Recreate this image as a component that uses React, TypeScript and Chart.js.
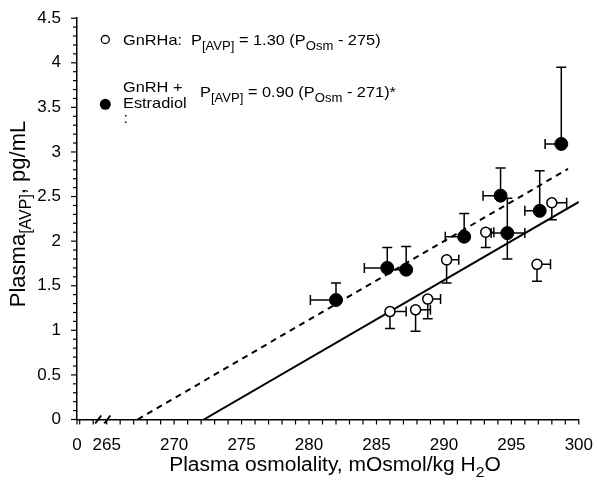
import React, { useEffect, useRef } from 'react';
import { Chart, registerables } from 'chart.js';

Chart.register(...registerables);

// ---------- axis ticks ----------
const X_MIN = 262.8;
const X_MAX = 300;
const Y_MIN = 0;
const Y_MAX = 4.5;
const xTickValues = [262.8, 265, 270, 275, 280, 285, 290, 295, 300];
const xTickLabels = ['0', '265', '270', '275', '280', '285', '290', '295', '300'];
const yTickValues = [0, 0.5, 1, 1.5, 2, 2.5, 3, 3.5, 4, 4.5];
const yTickLabels = ['0', '0.5', '1', '1.5', '2', '2.5', '3', '3.5', '4', '4.5'];

// ---------- GnRH + Estradiol (filled circles) ----------
const estX = [282.0, 285.8, 287.2, 291.5, 294.2, 294.7, 297.1, 298.7];
const estY = [1.34, 1.7, 1.68, 2.05, 2.51, 2.09, 2.34, 3.09];
const estXErrLow = [1.9, 1.7, 1.5, 1.4, 1.3, 1.2, 1.1, 1.2];
const estXErrHigh = [0, 0, 0, 0, 0, 1.3, 0, 0];
const estYErrHigh = [0.19, 0.23, 0.26, 0.26, 0.31, 0.39, 0.45, 0.86];
const estYErrLow = [0, 0, 0, 0, 0, 0.29, 0, 0];

// ---------- GnRHa (open circles) ----------
const gnX = [286.0, 287.9, 288.8, 290.2, 293.1, 296.9, 298.0];
const gnY = [1.21, 1.23, 1.35, 1.79, 2.1, 1.74, 2.43];
const gnXErrHigh = [1.2, 1.1, 0.95, 0.9, 0.6, 1.0, 1.1];
const gnYErrLow = [0.19, 0.24, 0.22, 0.26, 0.17, 0.19, 0.19];

// ---------- regression lines ----------
const gnLineX = [272.2, 300];
const gnLineY = [0, 2.44];
const estLineX = [267.3, 299.2];
const estLineY = [0, 2.81];

// ---------- axis break marks (x values) ----------
const breakX = [264.37, 265.05];

const FAMILY = '"Liberation Sans", Arial, Helvetica, sans-serif';

type Seg = { t: string; size: number; dy?: number };

function drawRich(ctx: CanvasRenderingContext2D, segs: Seg[], x: number, y: number, align: 'left' | 'center', sx: number) {
  ctx.save();
  ctx.translate(x, y);
  ctx.scale(sx, 1);
  let total = 0;
  const widths: number[] = [];
  for (const s of segs) {
    ctx.font = `${s.size}px ${FAMILY}`;
    const w = ctx.measureText(s.t).width;
    widths.push(w);
    total += w;
  }
  let cx = align === 'center' ? -total / 2 : 0;
  ctx.textBaseline = 'alphabetic';
  ctx.textAlign = 'left';
  segs.forEach((s, i) => {
    ctx.font = `${s.size}px ${FAMILY}`;
    ctx.fillText(s.t, cx, s.dy || 0);
    cx += widths[i];
  });
  ctx.restore();
}

const decorPlugin = {
  id: 'decor',
  beforeDatasetDraw(chart: any, args: any) {
    const ctx: CanvasRenderingContext2D = chart.ctx;
    const xs = chart.scales.x;
    const ys = chart.scales.y;
    const cap = 5;
    ctx.save();
    ctx.strokeStyle = '#000';
    ctx.lineWidth = 1.5;
    const hbar = (x0: number, x1: number, y: number) => {
      const a = xs.getPixelForValue(x0), b = xs.getPixelForValue(x1), p = ys.getPixelForValue(y);
      ctx.beginPath();
      ctx.moveTo(a, p); ctx.lineTo(b, p);
      ctx.moveTo(b, p - cap); ctx.lineTo(b, p + cap);
      ctx.stroke();
    };
    const vbar = (x: number, y0: number, y1: number) => {
      const p = xs.getPixelForValue(x), a = ys.getPixelForValue(y0), b = ys.getPixelForValue(y1);
      ctx.beginPath();
      ctx.moveTo(p, a); ctx.lineTo(p, b);
      ctx.moveTo(p - cap, b); ctx.lineTo(p + cap, b);
      ctx.stroke();
    };
    if (args.index === 2) {
      gnX.forEach((x, i) => {
        if (gnXErrHigh[i] > 0) hbar(x, x + gnXErrHigh[i], gnY[i]);
        if (gnYErrLow[i] > 0) vbar(x, gnY[i], gnY[i] - gnYErrLow[i]);
      });
    }
    if (args.index === 3) {
      estX.forEach((x, i) => {
        if (estXErrLow[i] > 0) hbar(x, x - estXErrLow[i], estY[i]);
        if (estXErrHigh[i] > 0) hbar(x, x + estXErrHigh[i], estY[i]);
        if (estYErrHigh[i] > 0) vbar(x, estY[i], estY[i] + estYErrHigh[i]);
        if (estYErrLow[i] > 0) vbar(x, estY[i], estY[i] - estYErrLow[i]);
      });
    }
    ctx.restore();
  },
  afterDraw(chart: any) {
    const ctx: CanvasRenderingContext2D = chart.ctx;
    const xs = chart.scales.x;
    const ys = chart.scales.y;
    const area = chart.chartArea;
    ctx.save();
    ctx.strokeStyle = '#000';
    ctx.fillStyle = '#000';
    ctx.lineWidth = 1.2;
    // y ticks every 0.1
    for (let k = 0; k <= 45; k++) {
      const v = k / 10;
      const p = ys.getPixelForValue(v);
      const len = k % 5 === 0 ? 6 : 4;
      ctx.beginPath();
      ctx.moveTo(area.left - len, p);
      ctx.lineTo(area.left, p);
      ctx.stroke();
    }
    // x ticks every 1
    const xticks = [X_MIN];
    for (let v = 263; v <= 300; v++) xticks.push(v);
    xticks.forEach((v) => {
      const p = xs.getPixelForValue(v);
      ctx.beginPath();
      ctx.moveTo(p, area.bottom);
      ctx.lineTo(p, area.bottom + 5);
      ctx.stroke();
    });
    // axis break marks
    ctx.lineWidth = 2;
    breakX.forEach((v) => {
      const p = xs.getPixelForValue(v);
      ctx.beginPath();
      ctx.moveTo(p - 3, area.bottom + 4);
      ctx.lineTo(p + 3, area.bottom - 4);
      ctx.stroke();
    });

    // legend
    const sx = 1.09;
    ctx.lineWidth = 1.3;
    ctx.beginPath();
    ctx.arc(105.3, 39.5, 4, 0, Math.PI * 2);
    ctx.fillStyle = '#fff';
    ctx.fill();
    ctx.stroke();
    ctx.fillStyle = '#000';
    ctx.beginPath();
    ctx.arc(105.3, 104.3, 5.5, 0, Math.PI * 2);
    ctx.fill();

    drawRich(ctx, [{ t: 'GnRHa:', size: 15 }], 123, 44.5, 'left', sx);
    drawRich(ctx, [
      { t: 'P', size: 15 },
      { t: '[AVP]', size: 12, dy: 5 },
      { t: ' = 1.30 (P', size: 15 },
      { t: 'Osm', size: 12, dy: 5 },
      { t: ' - 275)', size: 15 },
    ], 191, 45, 'left', sx);
    drawRich(ctx, [{ t: 'GnRH +', size: 15 }], 123, 92, 'left', sx);
    drawRich(ctx, [{ t: 'Estradiol', size: 15 }], 123, 107.5, 'left', sx);
    drawRich(ctx, [{ t: ':', size: 15 }], 123.5, 123, 'left', sx);
    drawRich(ctx, [
      { t: 'P', size: 15 },
      { t: '[AVP]', size: 12, dy: 5 },
      { t: ' = 0.90 (P', size: 15 },
      { t: 'Osm', size: 12, dy: 5 },
      { t: ' - 271)*', size: 15 },
    ], 200, 97, 'left', sx);

    // x axis title
    drawRich(ctx, [
      { t: 'Plasma osmolality, mOsmol/kg H', size: 20 },
      { t: '2', size: 15, dy: 6 },
      { t: 'O', size: 20 },
    ], 335, 471, 'center', 1.05);

    // y axis title (rotated)
    ctx.save();
    ctx.translate(25, 214);
    ctx.rotate(-Math.PI / 2);
    drawRich(ctx, [
      { t: 'Plasma', size: 22 },
      { t: '[AVP]', size: 16, dy: 6 },
      { t: ', pg/mL', size: 22 },
    ], 0, 0, 'center', 1);
    ctx.restore();

    ctx.restore();
  },
};

export default function App() {
  const ref = useRef<HTMLCanvasElement | null>(null);
  useEffect(() => {
    if (!ref.current) return;
    const toPts = (xs: number[], ys: number[]) => xs.map((x, i) => ({ x, y: ys[i] }));
    const chart = new Chart(ref.current, {
      type: 'scatter',
      data: {
        datasets: [
          {
            label: 'GnRHa fit',
            data: toPts(gnLineX, gnLineY),
            showLine: true,
            borderColor: '#000',
            borderWidth: 2,
            pointRadius: 0,
            order: 4,
          },
          {
            label: 'GnRH + Estradiol fit',
            data: toPts(estLineX, estLineY),
            showLine: true,
            borderColor: '#000',
            borderWidth: 2,
            borderDash: [6, 5],
            pointRadius: 0,
            order: 3,
          },
          {
            label: 'GnRHa',
            data: toPts(gnX, gnY),
            pointRadius: 5,
            pointBackgroundColor: '#fff',
            pointBorderColor: '#000',
            pointBorderWidth: 1.5,
            order: 2,
          },
          {
            label: 'GnRH + Estradiol',
            data: toPts(estX, estY),
            pointRadius: 6.5,
            pointBackgroundColor: '#000',
            pointBorderColor: '#000',
            pointBorderWidth: 1,
            order: 1,
          },
        ],
      },
      options: {
        animation: false,
        responsive: false,
        events: [],
        layout: { padding: { left: 0, right: 20, top: 15, bottom: 0 } },
        plugins: { legend: { display: false }, tooltip: { enabled: false } },
        scales: {
          x: {
            type: 'linear',
            min: X_MIN,
            max: X_MAX,
            grid: { display: false },
            border: { display: true, color: '#000', width: 1.5 },
            afterBuildTicks: (s: any) => {
              s.ticks = xTickValues.map((v) => ({ value: v }));
            },
            afterFit: (s: any) => {
              s.height = 485 - 419.5;
            },
            ticks: {
              autoSkip: false,
              maxRotation: 0,
              padding: 8,
              color: '#000',
              font: { family: FAMILY, size: 17 },
              callback: (_v: any, i: number) => xTickLabels[i],
            },
          },
          y: {
            type: 'linear',
            min: Y_MIN,
            max: Y_MAX,
            grid: { display: false },
            border: { display: true, color: '#000', width: 1.5 },
            afterBuildTicks: (s: any) => {
              s.ticks = yTickValues.map((v) => ({ value: v }));
            },
            afterFit: (s: any) => {
              s.width = 77;
            },
            ticks: {
              autoSkip: false,
              padding: 8,
              color: '#000',
              font: { family: FAMILY, size: 17 },
              callback: (_v: any, i: number) => yTickLabels[i],
            },
          },
        },
      },
      plugins: [decorPlugin],
    });
    return () => chart.destroy();
  }, []);
  return (
    <div style={{ position: 'fixed', left: 0, top: 0, width: 601, height: 485, background: '#fff' }}>
      <canvas ref={ref} width={601} height={485} style={{ width: 601, height: 485 }} />
    </div>
  );
}
